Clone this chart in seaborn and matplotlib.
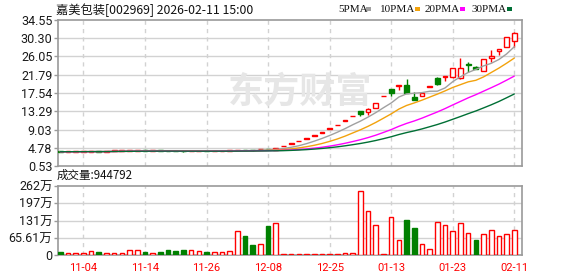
import numpy as np
import pandas as pd
import matplotlib
matplotlib.use("Agg")
import matplotlib.pyplot as plt
from matplotlib.patches import Rectangle
import seaborn as sns

# ---------------- data ----------------
opens = [3.88, 3.85, 3.86, 3.87, 3.88, 3.92, 3.89, 4.05, 4.08, 4.10,
         4.11, 4.12, 4.10, 4.11, 4.07, 4.01, 3.97, 3.92, 3.95, 3.98,
         3.96, 4.01, 4.05, 4.18, 4.26, 4.20, 4.38, 4.50, 4.34, 5.17,
         5.70, 6.25, 6.88, 7.57, 8.32, 9.15, 10.07, 11.05, 12.10, 13.25,
         13.00, 14.15, 16.77, 18.45, 19.20, 19.40, 16.57, 16.90, 18.95, 20.95,
         21.20, 21.20, 21.00, 24.40, 23.70, 22.70, 25.60, 27.30, 28.35, 29.75]
highs = [3.90, 3.89, 3.90, 3.91, 3.95, 3.93, 3.93, 4.11, 4.12, 4.14,
         4.15, 4.13, 4.13, 4.12, 4.08, 4.03, 3.98, 3.97, 4.00, 3.99,
         4.01, 4.07, 4.08, 4.27, 4.29, 4.23, 4.50, 4.53, 4.70, 5.17,
         5.70, 6.25, 6.88, 7.57, 8.32, 9.15, 10.07, 11.05, 12.10, 13.28,
         13.95, 15.29, 16.77, 18.45, 19.50, 20.80, 17.80, 17.55, 19.25, 21.30,
         21.45, 23.40, 25.60, 24.70, 23.90, 25.50, 27.60, 27.85, 30.60, 31.85]
lows = [3.83, 3.84, 3.85, 3.86, 3.87, 3.87, 3.88, 4.04, 4.06, 4.08,
        4.09, 4.08, 4.08, 4.06, 4.00, 3.95, 3.90, 3.91, 3.94, 3.94,
        3.95, 4.00, 4.03, 4.16, 4.19, 4.12, 4.36, 4.41, 4.30, 5.17,
        5.70, 6.25, 6.88, 7.57, 8.32, 9.15, 10.07, 11.05, 12.10, 12.20,
        12.50, 14.10, 16.77, 16.90, 18.30, 17.50, 15.90, 16.85, 18.95, 19.40,
        20.30, 21.10, 20.90, 22.50, 23.10, 22.60, 24.80, 26.40, 28.30, 28.20]
closes = [3.85, 3.87, 3.88, 3.89, 3.92, 3.89, 3.91, 4.09, 4.10, 4.12,
          4.13, 4.10, 4.11, 4.08, 4.02, 3.97, 3.92, 3.95, 3.98, 3.96,
          3.99, 4.04, 4.05, 4.24, 4.22, 4.15, 4.46, 4.45, 4.70, 5.17,
          5.70, 6.25, 6.88, 7.57, 8.32, 9.15, 10.07, 11.05, 12.10, 12.55,
          13.90, 15.25, 16.77, 17.60, 19.50, 17.60, 15.95, 17.50, 19.20, 19.55,
          21.40, 23.25, 23.30, 24.10, 23.15, 25.45, 26.25, 27.80, 30.55, 31.55]
# volume in 万 (10k hands)
volumes = [11, 9, 9, 9, 15, 10, 9, 9, 9, 18,
           18, 11, 9, 11, 19, 15, 19, 18, 15, 11,
           10, 10, 14, 90, 72, 38, 42, 110, 120, 4,
           3.5, 3.5, 3.5, 3.5, 3.5, 3.5, 3.5, 7.6, 7.6, 242,
           166, 113, 4, 143, 56, 133, 103, 40, 22, 124,
           113, 90, 120, 82, 57, 78, 94, 71, 78, 94.4792]
last_volume = "944792"

tick_idx = [3, 11, 19, 27, 35, 43, 51, 59]
tick_labels = ["11-04", "11-14", "11-26", "12-08", "12-25", "01-13", "01-23", "02-11"]
price_ticks = [0.53, 4.78, 9.03, 13.29, 17.54, 21.79, 26.05, 30.30, 34.55]
price_tick_labels = ["0.53", "4.78", "9.03", "13.29", "17.54", "21.79", "26.05", "30.30", "34.55"]
vol_ticks = [0, 65.61, 131.22, 196.83, 262.44]
vol_tick_labels = ["0", "65.61万", "131万", "197万", "262万"]
ma_windows = [5, 10, 20, 30]
ma_names = ["5PMA", "10PMA", "20PMA", "30PMA"]
title_text = "嘉美包装[002969] 2026-02-11 15:00"

# ---------------- style ----------------
sns.set_style("white")
plt.rcParams["font.family"] = ["Roboto", "Noto Sans CJK SC", "DejaVu Sans"]

UP = "#ff0000"
DOWN = "#008000"
ma_colors = {"5PMA": "#a0a0a0", "10PMA": "#f2a20c", "20PMA": "#ff00ff", "30PMA": "#006f35"}
GRID = "#d2d2d2"
SPINE = "#9a9a9a"

df = pd.DataFrame({"open": opens, "high": highs, "low": lows, "close": closes, "vol": volumes})
df["idx"] = np.arange(len(df))
prev_close = df["close"].shift(1).fillna(df["open"])
candle_up = (df["close"] > df["open"]) | ((df["close"] == df["open"]) & (df["close"] >= prev_close))
vol_up = df["close"] >= prev_close

W, H = 578, 276
fig = plt.figure(figsize=(W / 100, H / 100), dpi=100)
ax1 = fig.add_axes([58 / W, 1 - 166 / H, 464 / W, 146 / H])
ax2 = fig.add_axes([58 / W, 1 - 255 / H, 464 / W, 69 / H], sharex=ax1)

xlim = (-0.3, 60.0)

# ---------------- price panel ----------------
for t in price_ticks[1:-1]:
    ax1.axhline(t, color=GRID, lw=1, zorder=0)
for t in tick_idx:
    ax1.axvline(t, color=GRID, lw=1, ls=(0, (3, 3)), zorder=0)

# watermark
fig.text(300 / W, 1 - 92 / H, "东方财富", fontsize=26, color="#e6e6e6",
         family=["Noto Sans CJK SC"], fontweight="bold", ha="center", va="center", zorder=0)

body_w = 0.62
for i, r in df.iterrows():
    col = UP if candle_up[i] else DOWN
    ax1.vlines(r["idx"], r["low"], r["high"], color=col, lw=1, zorder=2)
    lo = min(r["open"], r["close"])
    h = max(abs(r["close"] - r["open"]), 0.12)
    ax1.bar(r["idx"], h, bottom=lo, width=body_w,
            facecolor="white" if (candle_up[i] and r["close"] != r["open"]) else col,
            edgecolor=col, linewidth=1, zorder=3)

ma_frames = []
for n, name in zip(ma_windows, ma_names):
    ma_frames.append(pd.DataFrame({"idx": df["idx"],
                                   "value": df["close"].rolling(n, min_periods=1).mean(),
                                   "ma": name}))
ma_df = pd.concat(ma_frames, ignore_index=True)
sns.lineplot(data=ma_df, x="idx", y="value", hue="ma", hue_order=ma_names,
             palette=ma_colors, linewidth=1, legend=False, ax=ax1, zorder=4)

ax1.set_ylim(price_ticks[0], price_ticks[-1])
ax1.set_xlim(*xlim)
ax1.set_yticks(price_ticks)
ax1.set_yticklabels(price_tick_labels)
ax1.set_xlabel("")
ax1.set_ylabel("")
ax1.tick_params(axis="y", length=3, width=1, color=SPINE, pad=1, labelsize=9, labelcolor="#1a1a1a", left=True)
ax1.tick_params(axis="x", bottom=False, labelbottom=False)

# ---------------- volume panel ----------------
for t in vol_ticks[1:-1]:
    ax2.axhline(t, color=GRID, lw=1, zorder=0)
for t in tick_idx:
    ax2.axvline(t, color=GRID, lw=1, ls=(0, (3, 3)), zorder=0)

for i, r in df.iterrows():
    col = UP if vol_up[i] else DOWN
    ax2.bar(r["idx"], r["vol"], width=0.6,
            facecolor="white" if vol_up[i] else col,
            edgecolor=col, linewidth=1, zorder=3)

ax2.set_ylim(vol_ticks[0], vol_ticks[-1])
ax2.set_yticks(vol_ticks)
ax2.set_yticklabels(vol_tick_labels)
ax2.set_xticks(tick_idx)
ax2.set_xticklabels(tick_labels)
ax2.set_xlim(*xlim)
ax2.tick_params(axis="y", length=3, width=1, color=SPINE, pad=1, labelsize=9, labelcolor="#1a1a1a", left=True)
ax2.tick_params(axis="x", length=0, pad=6, labelsize=8, labelcolor="#ff0000")

for ax in (ax1, ax2):
    for s in ax.spines.values():
        s.set_visible(True)
        s.set_color(SPINE)
        s.set_linewidth(1.2)

# ---------------- texts ----------------
fig.text(56 / W, 1 - 10 / H, title_text, fontsize=8.8, family=["Noto Sans CJK SC", "DejaVu Sans"],
         ha="left", va="center", color="#111111")

legend_x = [338, 380, 425, 472]
for x0, name in zip(legend_x, ma_names):
    fig.text(x0 / W, 1 - 9 / H, name, fontsize=8, family=["Liberation Serif"],
             ha="left", va="center", color="#111111")
    sq_x = x0 + (25 if len(name) == 4 else 32) + 3
    fig.patches.append(Rectangle((sq_x / W, 1 - 11 / H), 5 / W, 4 / H,
                                 transform=fig.transFigure, facecolor=ma_colors[name],
                                 edgecolor="none", figure=fig))

fig.text(57 / W, 1 - 175 / H, "成交量:" + last_volume, fontsize=8.3,
         family=["Noto Sans CJK SC", "DejaVu Sans"], ha="left", va="center", color="#111111")

fig.savefig("out.png", dpi=100)
